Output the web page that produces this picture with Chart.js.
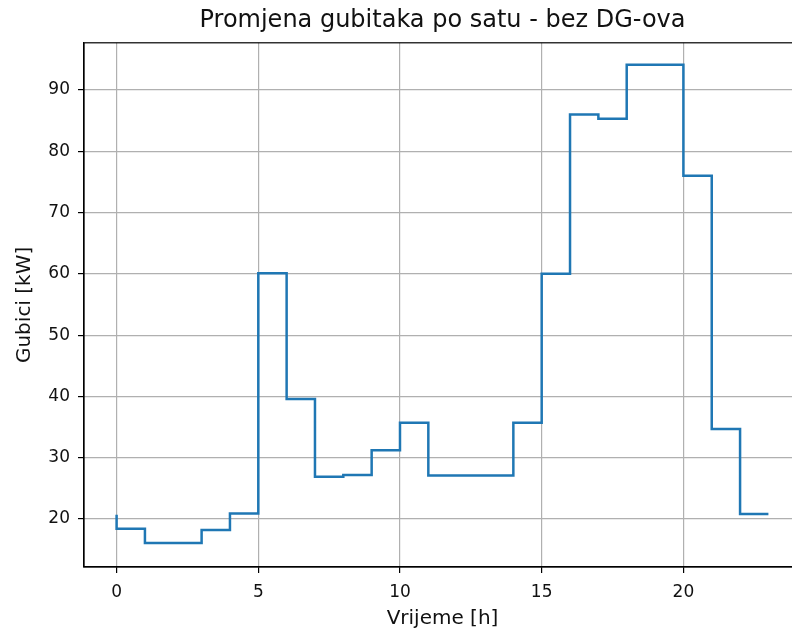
<!DOCTYPE html>
<html>
<head>
<meta charset="utf-8">
<script src="https://cdn.jsdelivr.net/npm/chart.js@4/dist/chart.umd.min.js"></script>
<style>
  html, body { margin: 0; padding: 0; background: #fff; overflow: hidden; width: 792px; height: 630px; }
  #wrap { position: absolute; left: 0; top: 0; width: 812px; height: 630px; }
</style>
</head>
<body>
<div id="wrap"><canvas id="c" width="812" height="630"></canvas></div>
<script>
// Data (step plot, value applies to the hour ending at x)
const hours = [0,1,2,3,4,5,6,7,8,9,10,11,12,13,14,15,16,17,18,19,20,21,22,23];
const losses = [20.7,18.4,16.1,16.1,18.2,20.9,60.1,39.6,26.9,27.2,31.2,35.7,27.1,27.1,27.1,35.7,60.0,86.0,85.3,94.1,94.1,76.0,34.7,20.8];
const xTicks = [0,5,10,15,20];
const yTicks = [20,30,40,50,60,70,80,90];

const titleText = 'Promjena gubitaka po satu - bez DG-ova';
const xLabel = 'Vrijeme [h]';
const yLabel = 'Gubici [kW]';

const FONT = 'DejaVu Sans';
const TICK_SIZE = 17;
const LABEL_SIZE = 20;

const spines = {
  id: 'spines',
  afterDatasetsDraw(chart) {
    const {ctx, chartArea: a} = chart;
    ctx.save();
    ctx.strokeStyle = '#000';
    ctx.lineWidth = 1.2;
    ctx.strokeRect(a.left, a.top, a.right - a.left, a.bottom - a.top);
    ctx.restore();
  }
};

new Chart(document.getElementById('c'), {
  type: 'line',
  data: {
    datasets: [{
      data: hours.map((h, i) => ({x: h, y: losses[i]})),
      borderColor: '#1f77b4',
      borderWidth: 2.5,
      pointRadius: 0,
      stepped: 'after',
      fill: false
    }]
  },
  options: {
    responsive: false,
    animation: false,
    devicePixelRatio: 1,
    layout: { padding: { left: 0, right: 11, top: 0, bottom: 0 } },
    plugins: {
      legend: { display: false },
      tooltip: { enabled: false },
      title: {
        display: true,
        text: titleText,
        fullSize: false,
        color: '#111',
        font: { family: FONT, size: 24, weight: 'normal', lineHeight: 1.2 },
        padding: { top: 6, bottom: 8 }
      }
    },
    scales: {
      x: {
        type: 'linear',
        min: -1.15,
        max: 24.15,
        afterBuildTicks: s => { s.ticks = xTicks.map(v => ({value: v})); },
        afterFit: s => { s.height = 63; },
        grid: { color: '#b0b0b0', lineWidth: 1.2, tickColor: '#000', tickLength: 6, tickWidth: 1.2 },
        border: { display: true, color: '#000', width: 1.2 },
        ticks: { color: '#111', font: { family: FONT, size: TICK_SIZE }, padding: 9, maxRotation: 0, autoSkip: false },
        title: { display: true, text: xLabel, color: '#111', font: { family: FONT, size: LABEL_SIZE }, padding: { top: 0, bottom: -1 } }
      },
      y: {
        type: 'linear',
        min: 12.17,
        max: 97.7,
        afterBuildTicks: s => { s.ticks = yTicks.map(v => ({value: v})); },
        afterFit: s => { s.width = 84; },
        grid: { color: '#b0b0b0', lineWidth: 1.2, tickColor: '#000', tickLength: 6, tickWidth: 1.2 },
        border: { display: true, color: '#000', width: 1.2 },
        ticks: { color: '#111', font: { family: FONT, size: TICK_SIZE }, padding: 8, autoSkip: false },
        title: { display: true, text: yLabel, color: '#111', font: { family: FONT, size: LABEL_SIZE }, padding: { top: 13, bottom: 0 } }
      }
    }
  },
  plugins: [spines]
});
</script>
</body>
</html>
